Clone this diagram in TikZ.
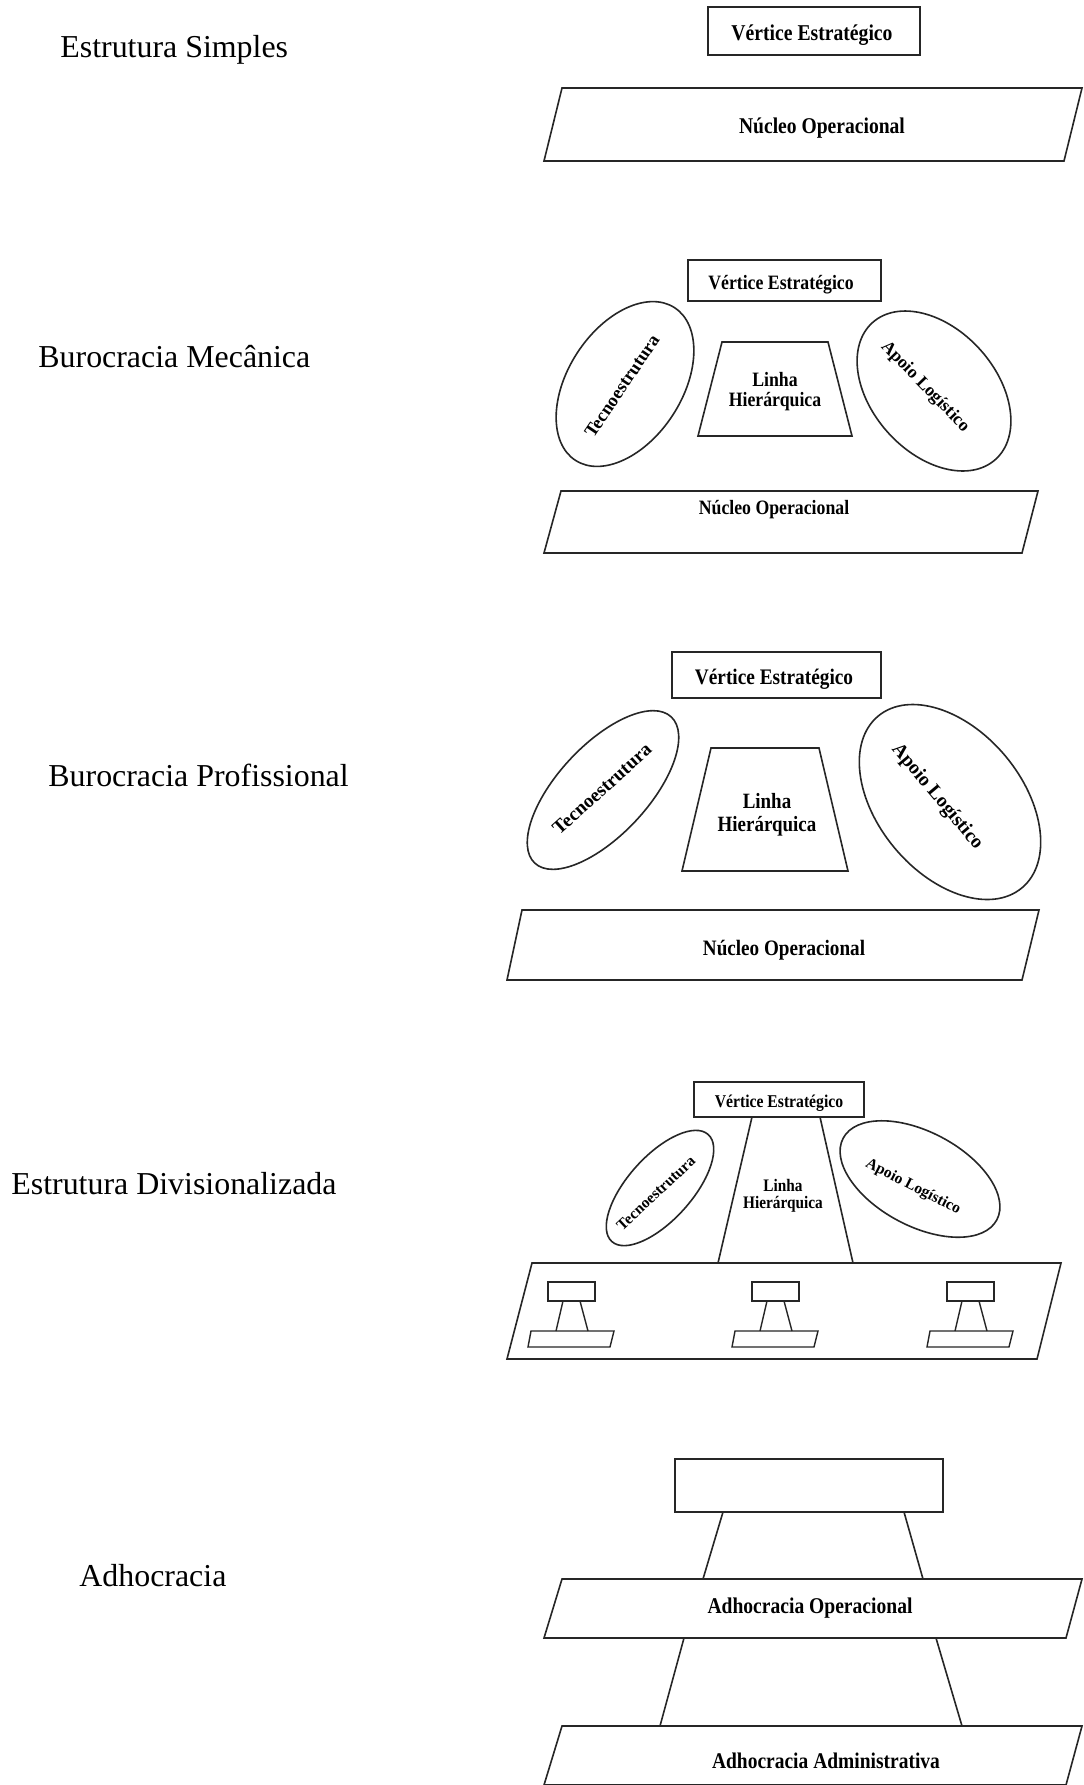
\documentclass[tikz,border=0pt]{standalone}
\usepackage{fontspec}
\setmainfont{Liberation Serif}
\usepackage{graphicx}
% bold captions inside the shapes are set slightly condensed
\newcommand{\narrowtxt}[1]{\scalebox{0.87}[1]{#1}}
\tikzset{
  shp/.style={draw=black!85, line width=0.8pt, line join=miter},
  lbl/.style={anchor=base west, inner sep=0pt, font=\fontsize{15.95}{18}\selectfont},
  bt/.style={anchor=base, inner sep=0pt, font=\fontsize{#1}{#1}\selectfont\bfseries},
  rt/.style={anchor=center, inner sep=0pt, font=\fontsize{#1}{#1}\selectfont\bfseries},
}
\begin{document}
\begin{tikzpicture}[x=0.5pt, y=-0.5pt]
\useasboundingbox[fill=white] (0,0) rectangle (1083,1785);

% ---- names of the five configurations
\node[lbl] (lab1) at (60,57)   {Estrutura Simples};
\node[lbl] (lab2) at (38,367)  {Burocracia Mecânica};
\node[lbl] (lab3) at (48,786)  {Burocracia Profissional};
\node[lbl] (lab4) at (11,1194) {Estrutura Divisionalizada};
\node[lbl] (lab5) at (79,1586) {Adhocracia};

% ---- Estrutura Simples
\draw[shp] (708,7) rectangle (920,55);
\node[bt=11.3] (ve1) at (812,40) {\narrowtxt{Vértice Estratégico}};
\draw[shp] (562,88) -- (1082,88) -- (1064,161) -- (544,161) -- cycle;
\node[bt=11.25] (no1) at (822,133) {\narrowtxt{Núcleo Operacional}};

% ---- Burocracia Mecânica
\draw[shp] (688,260) rectangle (881,301);
\node[bt=10.2] (ve2) at (781,289) {\narrowtxt{Vértice Estratégico}};
\draw[shp, rotate around={57:(625,384)}] (625,384) ellipse [x radius=91, y radius=57];
\node[rt=9.15, rotate=56] (te2) at (622,386) {Tecnoestrutura};
\draw[shp] (722,342) -- (828,342) -- (852,436) -- (698,436) -- cycle;
\node[bt=10.2] (li2) at (775,386) {\narrowtxt{Linha}};
\node[bt=10.2] (hi2) at (775,406) {\narrowtxt{Hierárquica}};
\draw[shp, rotate around={-48:(934,391)}] (934,391) ellipse [x radius=92, y radius=62];
\node[rt=8.9, rotate=-46] (ap2) at (925,387) {Apoio Logístico};
\draw[shp] (561,491) -- (1038,491) -- (1022,553) -- (544,553) -- cycle;
\node[bt=10.2] (no2) at (774,514) {\narrowtxt{Núcleo Operacional}};

% ---- Burocracia Profissional
\draw[shp] (672,652) rectangle (881,698);
\node[bt=11.1] (ve3) at (774,684) {\narrowtxt{Vértice Estratégico}};
\draw[shp, rotate around={47:(603,790)}] (603,790) ellipse [x radius=100, y radius=45];
\node[rt=9.65, rotate=42] (te3) at (602,789) {Tecnoestrutura};
\draw[shp] (711,748) -- (819,748) -- (848,871) -- (682,871) -- cycle;
\node[bt=10.9] (li3) at (767,808) {\narrowtxt{Linha}};
\node[bt=10.9] (hi3) at (767,831) {\narrowtxt{Hierárquica}};
\draw[shp, rotate around={-50:(950,802)}] (950,802) ellipse [x radius=112, y radius=72];
\node[rt=9.8, rotate=-50] (ap3) at (937,797) {Apoio Logístico};
\draw[shp] (522,910) -- (1039,910) -- (1022,980) -- (507,980) -- cycle;
\node[bt=11] (no3) at (784,955) {\narrowtxt{Núcleo Operacional}};

% ---- Estrutura Divisionalizada
\draw[shp] (694,1082) rectangle (864,1117);
\node[bt=9.0] (ve4) at (779,1107) {\narrowtxt{Vértice Estratégico}};
\draw[shp] (752,1117) -- (820,1117) -- (853,1263) -- (718,1263) -- cycle;
\node[bt=8.8] (li4) at (783,1191) {\narrowtxt{Linha}};
\node[bt=8.8] (hi4) at (783,1208) {\narrowtxt{Hierárquica}};
\draw[shp, rotate around={48:(660,1188)}] (660,1188) ellipse [x radius=72, y radius=32];
\node[rt=7.75, rotate=43] (te4) at (656,1193) {Tecnoestrutura};
\draw[shp, rotate around={-28:(920,1179)}] (920,1179) ellipse [x radius=87, y radius=47];
\node[rt=7.8, rotate=-27] (ap4) at (913,1187) {Apoio Logístico};
\draw[shp] (532,1263) -- (1061,1263) -- (1037,1359) -- (507,1359) -- cycle;
% the three divisions, each a small apex, line and base
\foreach \dx in {0,204,399}{
  \begin{scope}[xshift=\dx*0.5pt]
    \draw[shp, line width=0.7pt] (548,1282) rectangle (595,1301);
    \draw[shp, line width=0.7pt] (563,1301) -- (556,1331) (580,1301) -- (588,1331);
    \draw[shp, line width=0.7pt] (531,1331) -- (614,1331) -- (610,1347) -- (528,1347) -- cycle;
  \end{scope}
}

% ---- Adhocracia
\draw[shp] (675,1459) rectangle (943,1512);
\coordinate (a1) at (723,1512); \coordinate (a2) at (703,1579);
\coordinate (a3) at (904,1512); \coordinate (a4) at (923,1579);
\draw[shp] (a1) -- (a2) (a3) -- (a4);
\draw[shp] (562,1579) -- (1082,1579) -- (1066,1638) -- (544,1638) -- cycle;
\node[bt=11.25] (ad1) at (810,1613) {\narrowtxt{Adhocracia Operacional}};
\coordinate (b1) at (684,1638); \coordinate (b2) at (660,1726);
\coordinate (b3) at (936,1638); \coordinate (b4) at (962,1726);
\draw[shp] (b1) -- (b2) (b3) -- (b4);
\draw[shp] (562,1726) -- (1082,1726) -- (1066,1785) -- (544,1785) -- cycle;
\node[bt=11.2] (ad2) at (826,1768) {\narrowtxt{Adhocracia Administrativa}};
\end{tikzpicture}
\end{document}
